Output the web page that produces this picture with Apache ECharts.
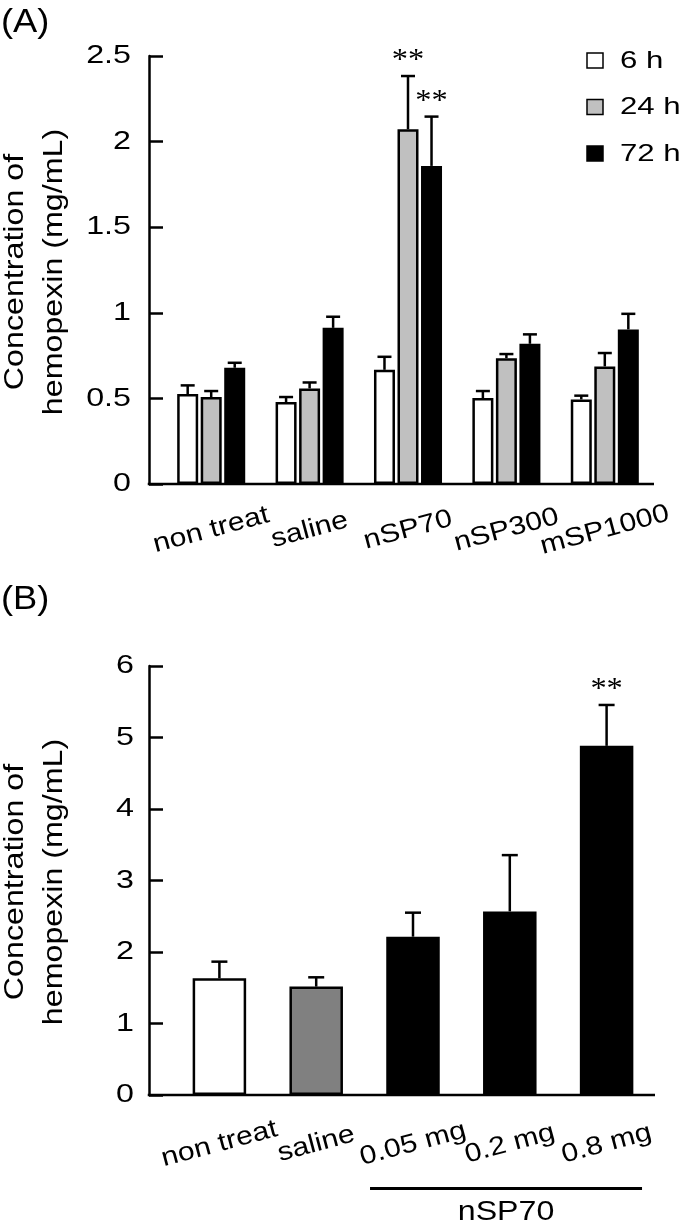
<!DOCTYPE html>
<html>
<head>
<meta charset="utf-8">
<script src="https://cdn.jsdelivr.net/npm/echarts@6/dist/echarts.min.js"></script>
<style>
html,body{margin:0;padding:0;background:#fff;}
#chart{width:685px;height:1230px;}
</style>
</head>
<body>
<div id="chart"></div>
<script>
// ---------------- DATA ----------------
const categoriesA = ['non treat', 'saline', 'nSP70', 'nSP300', 'mSP1000'];
const seriesNamesA = ['6 h', '24 h', '72 h'];
const mean6h  = [0.525, 0.479, 0.667, 0.502, 0.494];
const err6h   = [0.051, 0.029, 0.076, 0.041, 0.022];
const mean24h = [0.508, 0.558, 2.072, 0.735, 0.687];
const err24h  = [0.035, 0.035, 0.311, 0.024, 0.078];
const mean72h = [0.679, 0.912, 1.858, 0.819, 0.903];
const err72h  = [0.029, 0.065, 0.288, 0.055, 0.091];
const sig6h   = [false, false, false, false, false];
const sig24h  = [false, false, true, false, false];
const sig72h  = [false, false, true, false, false];
const ticksA  = [0, 0.5, 1, 1.5, 2, 2.5];

const categoriesB = ['non treat', 'saline', '0.05 mg', '0.2 mg', '0.8 mg'];
const meanB = [1.632, 1.516, 2.214, 2.568, 4.883];
const errB  = [0.233, 0.130, 0.336, 0.787, 0.572];
const sigB  = [false, false, false, false, true];
const ticksB = [0, 1, 2, 3, 4, 5, 6];
const groupLabelB = 'nSP70';
const groupRangeB = [2, 4];

const yTitleLines = ['Concentration of', 'hemopexin (mg/mL)'];
const panelLabels = ['(A)', '(B)'];
const sigMark = '**';

// ---------------- STYLE ----------------
const FONT = '"Liberation Sans", Arial, Helvetica, sans-serif';
const SERIF = '"Liberation Serif", "Times New Roman", serif';
const colorsA = ['#ffffff', '#c0c0c0', '#000000'];
const colorsB = ['#ffffff', '#808080', '#000000', '#000000', '#000000'];
const LW = 2.5;
const BAR_W_A = 21, BAR_GAP_A = 0.12;
const BAR_W_B = 53.5;
const Y_OFF_A = 13, Y_OFF_B = 22;

function txt(x, y, text, o) {
  o = o || {};
  return {
    type: 'text', x: x, y: y,
    rotation: o.rotation || 0,
    scaleX: o.scaleX || 1,
    silent: true,
    style: {
      text: text,
      fill: '#000', textFill: '#000',
      font: (o.size || 24) + 'px ' + (o.family || FONT),
      align: o.align || 'left', textAlign: o.align || 'left',
      verticalAlign: o.va || 'middle', textVerticalAlign: o.va || 'middle'
    }
  };
}

function errorSeries(gridIdx, means, errs, sigs, offset, capW) {
  return {
    type: 'custom', xAxisIndex: gridIdx, yAxisIndex: gridIdx, clip: false, silent: true,
    data: means.map((m, i) => [i, m, errs[i], sigs[i] ? 1 : 0]),
    renderItem: function (params, api) {
      const p0 = api.coord([api.value(0), api.value(1)]);
      const p1 = api.coord([api.value(0), api.value(1) + api.value(2)]);
      const x = p0[0] + offset;
      const children = [
        {type: 'line', shape: {x1: x, y1: p0[1], x2: x, y2: p1[1]}, style: {stroke: '#000', lineWidth: LW}},
        {type: 'line', shape: {x1: x - capW / 2, y1: p1[1], x2: x + capW / 2, y2: p1[1]}, style: {stroke: '#000', lineWidth: LW}}
      ];
      if (api.value(3)) {
        children.push(txt(x, p1[1] - 15.5, sigMark, {align: 'center', size: 30, scaleX: 1.08, family: SERIF}));
      }
      return {type: 'group', children: children};
    }
  };
}

function tickLabelSeries(gridIdx, ticks, yOff, gap) {
  return {
    type: 'custom', xAxisIndex: gridIdx, yAxisIndex: gridIdx, clip: false, silent: true,
    data: ticks.map(t => [0, t]),
    renderItem: function (params, api) {
      const y = api.coord([0, api.value(1)])[1];
      const x = params.coordSys.x - yOff - gap;
      return txt(x, y, String(api.value(1)), {align: 'right', size: 26, scaleX: 1.24});
    }
  };
}

function xLabelSeries(gridIdx, cats, yOff, margin) {
  return {
    type: 'custom', xAxisIndex: gridIdx, yAxisIndex: gridIdx, clip: false, silent: true,
    data: cats.map((c, i) => [i, 0]),
    renderItem: function (params, api) {
      const p = api.coord([api.value(0), 0]);
      const children = [txt(p[0], p[1] + margin, cats[params.dataIndex],
        {align: 'center', size: 26, scaleX: 1.16, rotation: 15 * Math.PI / 180})];
      if (params.dataIndex === 0) {
        children.push({type: 'line',
          shape: {x1: params.coordSys.x - yOff - LW / 2, y1: p[1], x2: params.coordSys.x + params.coordSys.width, y2: p[1]},
          style: {stroke: '#000', lineWidth: LW}});
      }
      return {type: 'group', children: children};
    }
  };
}

const offA = BAR_W_A * (1 + BAR_GAP_A);

const option = {
  animation: false,
  backgroundColor: '#ffffff',
  grid: [
    {left: 162, top: 56, width: 492, height: 428},
    {left: 171, top: 666, width: 484, height: 429}
  ],
  xAxis: [
    {type: 'category', gridIndex: 0, data: categoriesA, axisLine: {show: false}, axisTick: {show: false}, axisLabel: {show: false}},
    {type: 'category', gridIndex: 1, data: categoriesB, axisLine: {show: false}, axisTick: {show: false}, axisLabel: {show: false}}
  ],
  yAxis: [
    {type: 'value', gridIndex: 0, min: 0, max: 2.5, interval: 0.5, offset: Y_OFF_A,
      axisLine: {show: true, lineStyle: {color: '#000', width: LW}},
      axisTick: {show: true, inside: true, length: 14, lineStyle: {color: '#000', width: LW}},
      axisLabel: {show: false}, splitLine: {show: false}},
    {type: 'value', gridIndex: 1, min: 0, max: 6, interval: 1, offset: Y_OFF_B,
      axisLine: {show: true, lineStyle: {color: '#000', width: LW}},
      axisTick: {show: true, inside: true, length: 14, lineStyle: {color: '#000', width: LW}},
      axisLabel: {show: false}, splitLine: {show: false}}
  ],
  series: [
    {type: 'bar', name: seriesNamesA[0], data: mean6h, xAxisIndex: 0, yAxisIndex: 0, barWidth: BAR_W_A, barGap: (BAR_GAP_A * 100) + '%',
      itemStyle: {color: colorsA[0], borderColor: '#000', borderWidth: LW}},
    {type: 'bar', name: seriesNamesA[1], data: mean24h, xAxisIndex: 0, yAxisIndex: 0, barWidth: BAR_W_A, barGap: (BAR_GAP_A * 100) + '%',
      itemStyle: {color: colorsA[1], borderColor: '#000', borderWidth: LW}},
    {type: 'bar', name: seriesNamesA[2], data: mean72h, xAxisIndex: 0, yAxisIndex: 0, barWidth: BAR_W_A, barGap: (BAR_GAP_A * 100) + '%',
      itemStyle: {color: colorsA[2], borderColor: '#000', borderWidth: LW}},
    errorSeries(0, mean6h, err6h, sig6h, -offA, 14),
    errorSeries(0, mean24h, err24h, sig24h, 0, 14),
    errorSeries(0, mean72h, err72h, sig72h, offA, 14),
    tickLabelSeries(0, ticksA, Y_OFF_A, 18),
    xLabelSeries(0, categoriesA, Y_OFF_A, 46),

    {type: 'bar', name: 'B', xAxisIndex: 1, yAxisIndex: 1, barWidth: BAR_W_B,
      data: meanB.map((v, i) => ({value: v, itemStyle: {color: colorsB[i], borderColor: '#000', borderWidth: LW}}))},
    errorSeries(1, meanB, errB, sigB, 0, 16),
    tickLabelSeries(1, ticksB, Y_OFF_B, 15),
    xLabelSeries(1, categoriesB, Y_OFF_B, 49),
    {
      type: 'custom', xAxisIndex: 1, yAxisIndex: 1, clip: false, silent: true,
      data: [[groupRangeB[0], groupRangeB[1]]],
      renderItem: function (params, api) {
        const band = api.size([1, 0])[0];
        const a = api.coord([api.value(0), 0]);
        const b = api.coord([api.value(1), 0]);
        const x1 = a[0] - 0.444 * band, x2 = b[0] + 0.366 * band;
        return {type: 'group', children: [
          {type: 'line', shape: {x1: x1, y1: a[1] + 93.5, x2: x2, y2: a[1] + 93.5}, style: {stroke: '#000', lineWidth: 3}},
          txt((x1 + x2) / 2, a[1] + 118, groupLabelB, {align: 'center', size: 27, scaleX: 1.19})
        ]};
      }
    }
  ],
  graphic: [
    txt(1, 23, panelLabels[0], {size: 33, scaleX: 1.1}),
    txt(1, 600, panelLabels[1], {size: 33, scaleX: 1.1}),
    txt(15, 272, yTitleLines[0], {align: 'center', size: 28, scaleX: 1.15, rotation: Math.PI / 2}),
    txt(54, 272, yTitleLines[1], {align: 'center', size: 28, scaleX: 1.15, rotation: Math.PI / 2}),
    txt(15, 882, yTitleLines[0], {align: 'center', size: 28, scaleX: 1.15, rotation: Math.PI / 2}),
    txt(54, 882, yTitleLines[1], {align: 'center', size: 28, scaleX: 1.15, rotation: Math.PI / 2})
  ].concat(seriesNamesA.map((n, i) => ({
    type: 'rect', shape: {x: 587, y: 53 + i * 46.5, width: 16, height: 15}, silent: true,
    style: {fill: colorsA[i], stroke: '#000', lineWidth: 1.5}
  }))).concat(seriesNamesA.map((n, i) => txt(620, 61 + i * 46.5, n, {size: 24, scaleX: 1.3})))
};

const chart = echarts.init(document.getElementById('chart'), null, {renderer: 'canvas'});
chart.setOption(option);
</script>
</body>
</html>
